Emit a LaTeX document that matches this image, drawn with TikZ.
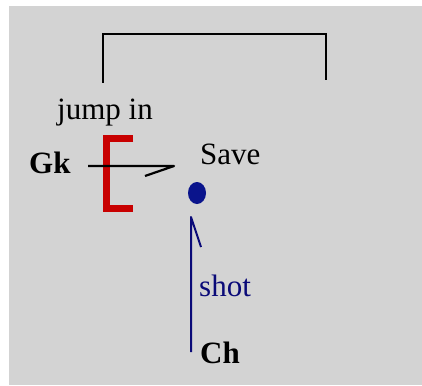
\documentclass[tikz,border=0pt]{standalone}
\usepackage{fontspec}
\usetikzlibrary{shapes.geometric}
\setmainfont{Liberation Serif}
\definecolor{bg}{RGB}{211,211,211}
\definecolor{brk}{RGB}{200,0,0}
\definecolor{navy}{RGB}{10,10,120}
\definecolor{dotblue}{RGB}{10,20,140}
\begin{document}
\begin{tikzpicture}[x=1pt,y=-1pt,
  lbl/.style={inner sep=0pt,anchor=base west,font=\fontsize{31}{36}\selectfont},
  blbl/.style={lbl,font=\fontsize{31}{36}\selectfont\bfseries},
  blk/.style={draw=black,line width=2.6pt},
  nav/.style={draw=navy,line width=2pt,line join=round}]
\useasboundingbox (0,0) rectangle (422,385);
\fill[white] (0,0) rectangle (422,385);
\fill[bg] (9,6) rectangle (422,385);
% top bracket
\coordinate (tl) at (103,83);
\coordinate (tr) at (326,80);
\draw[blk] (tl) -- (103,34) -- (326,34) -- (tr);
% labels
\node[lbl] (jump) at (57,119) {jump in};
\node[blbl] (gk) at (29,173) {Gk};
\node[lbl] (save) at (200,164) {Save};
\node[lbl,text=navy] (shot) at (199,296) {shot};
\node[blbl] (ch) at (200,363) {Ch};
% red bracket
\draw[draw=brk,line width=7pt,line join=miter] (133,138.5) -- (106.5,138.5) -- (106.5,208.5) -- (133,208.5);
% horizontal harpoon
\coordinate (hs) at (88,166);
\coordinate (he) at (174,166);
\draw[blk,line width=2.2pt,line join=round] (hs) -- (he) -- (145,176);
% blue dot
\node[fill=dotblue,ellipse,minimum width=18pt,minimum height=22pt,inner sep=0pt] (dot) at (197,193) {};
% blue harpoon
\coordinate (vb) at (191,352);
\coordinate (vt) at (191,217);
\draw[nav] (vb) -- (vt) -- (201,247);
\end{tikzpicture}
\end{document}
